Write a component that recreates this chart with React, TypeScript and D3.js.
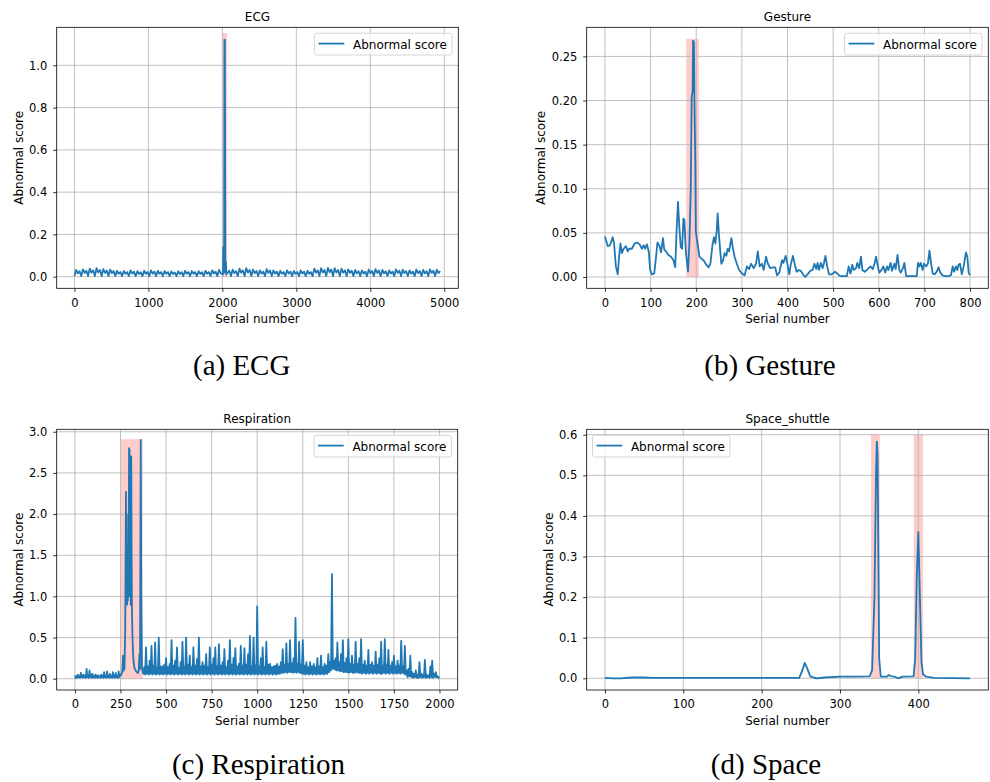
import React, { useRef, useEffect } from 'react';
import * as d3 from 'd3';

type Point = [number, number];

// ---- ECG ----
const ecgStep = 23;
const ecgScore = [
  0.003, 0.032, 0.016, 0.026, 0.003, 0.035, 0.018, 0.028, 0.003, 0.038, 0.019, 0.030,
  0.003, 0.040, 0.020, 0.032, 0.003, 0.036, 0.018, 0.029, 0.003, 0.034, 0.017, 0.027,
  0.003, 0.028, 0.014, 0.022, 0.003, 0.027, 0.014, 0.022, 0.003, 0.030, 0.015, 0.024,
  0.003, 0.026, 0.013, 0.021, 0.003, 0.028, 0.014, 0.022, 0.003, 0.030, 0.015, 0.024,
  0.003, 0.028, 0.014, 0.022, 0.003, 0.027, 0.014, 0.022, 0.003, 0.025, 0.013, 0.020,
  0.003, 0.026, 0.013, 0.021, 0.003, 0.028, 0.014, 0.022, 0.003, 0.027, 0.014, 0.022,
  0.003, 0.026, 0.013, 0.021, 0.003, 0.028, 0.014, 0.022, 0.003, 0.030, 0.015, 0.024,
  0.003, 0.032, 0.016, 0.026, 0.003, 0.035, 0.018, 0.028, 0.003, 0.033, 0.017, 0.026,
  0.003, 0.038, 0.019, 0.030, 0.003, 0.040, 0.020, 0.032, 0.003, 0.034, 0.017, 0.027,
  0.003, 0.030, 0.015, 0.024, 0.003, 0.036, 0.018, 0.029, 0.003, 0.030, 0.015, 0.024,
  0.003, 0.028, 0.014, 0.022, 0.003, 0.030, 0.015, 0.024, 0.003, 0.027, 0.014, 0.022,
  0.003, 0.030, 0.015, 0.024, 0.003, 0.028, 0.014, 0.022, 0.003, 0.038, 0.019, 0.030,
  0.003, 0.040, 0.020, 0.032, 0.003, 0.042, 0.021, 0.034, 0.003, 0.040, 0.020, 0.032,
  0.003, 0.038, 0.019, 0.030, 0.003, 0.035, 0.018, 0.028, 0.003, 0.032, 0.016, 0.026,
  0.003, 0.030, 0.015, 0.024, 0.003, 0.034, 0.017, 0.027, 0.003, 0.036, 0.018, 0.029,
  0.003, 0.032, 0.016, 0.026, 0.003, 0.030, 0.015, 0.024, 0.003, 0.035, 0.018, 0.028,
  0.003, 0.033, 0.017, 0.026, 0.003, 0.030, 0.015, 0.024, 0.003, 0.034, 0.017, 0.027,
  0.003, 0.032, 0.016, 0.026, 0.003, 0.035, 0.018, 0.028, 0.003, 0.033, 0.017, 0.026,
];
const ecgSpikeX = [2008, 2012, 2016, 2024, 2028, 2034, 2040, 2048, 2054];
const ecgSpikeY = [0.01, 0.14, 0.02, 0.02, 1.12, 1.12, 0.02, 0.07, 0.01];
const ecgSpans = [[2000, 2065]];
const ecgSpanTop = 1.153;
const ecgXTicks = [0, 1000, 2000, 3000, 4000, 5000];
const ecgYTicks = [0, 0.2, 0.4, 0.6, 0.8, 1.0];

// ---- Gesture ----
const gestureX = [
  0, 6, 11, 17, 20, 24, 28, 31, 34, 37, 41, 46, 50, 53, 59, 65, 70, 76, 81, 85, 88, 92, 96, 99,
  103, 108, 112, 115, 119, 123, 127, 130, 134, 139, 145, 150, 154, 157, 160, 163, 166, 169, 172,
  174, 177, 180, 182, 185, 188, 190, 192, 193, 195, 196, 198, 199, 201, 204, 207, 211, 216, 222,
  227, 231, 236, 239, 242, 245, 247, 250, 255, 259, 262, 266, 269, 272, 277, 280, 284, 289, 294,
  300, 306, 311, 316, 320, 326, 331, 335, 339, 344, 348, 353, 357, 362, 368, 373, 377, 382, 388,
  391, 396, 400, 404, 407, 412, 416, 420, 425, 429, 434, 439, 444, 450, 455, 459, 463, 466, 469,
  473, 477, 480, 483, 487, 491, 497, 504, 509, 515, 523, 530, 534, 538, 542, 545, 550, 553, 557,
  561, 564, 569, 574, 578, 582, 587, 591, 594, 598, 601, 606, 610, 614, 618, 621, 626, 629, 634,
  637, 641, 645, 648, 653, 656, 660, 669, 676, 683, 686, 689, 692, 696, 699, 704, 708, 711, 714,
  718, 722, 727, 731, 734, 739, 745, 753, 758, 762, 765, 769, 772, 775, 778, 782, 786, 791, 794,
  797, 800,
];
const gestureY = [
  0.046, 0.035, 0.036, 0.045, 0.038, 0.012, 0.003, 0.023, 0.038, 0.027, 0.032, 0.035, 0.029,
  0.032, 0.032, 0.038, 0.039, 0.037, 0.032, 0.036, 0.032, 0.037, 0.029, 0.008, 0.003, 0.004,
  0.023, 0.039, 0.036, 0.028, 0.044, 0.031, 0.029, 0.025, 0.023, 0.019, 0.011, 0.053, 0.085,
  0.057, 0.034, 0.032, 0.066, 0.065, 0.031, 0.015, 0.006, 0.038, 0.098, 0.204, 0.21, 0.268,
  0.266, 0.2, 0.129, 0.053, 0.044, 0.034, 0.023, 0.021, 0.019, 0.014, 0.011, 0.015, 0.038,
  0.045, 0.038, 0.053, 0.072, 0.046, 0.015, 0.019, 0.027, 0.024, 0.032, 0.029, 0.044, 0.034,
  0.023, 0.015, 0.008, 0.004, 0.002, 0.012, 0.009, 0.015, 0.01, 0.015, 0.029, 0.012, 0.015,
  0.008, 0.023, 0.015, 0.01, 0.011, 0.011, 0.002, 0.005, 0.019, 0.016, 0.024, 0.014, 0.003,
  0.014, 0.024, 0.014, 0.006, 0.008, 0.007, 0.003, 0.0, 0.003, 0.007, 0.008, 0.015, 0.009,
  0.016, 0.008, 0.016, 0.01, 0.016, 0.024, 0.012, 0.003, 0.003, 0.006, 0.004, 0.001, 0.001,
  0.001, 0.012, 0.004, 0.014, 0.008, 0.01, 0.016, 0.01, 0.023, 0.008, 0.006, 0.008, 0.01,
  0.012, 0.009, 0.016, 0.023, 0.012, 0.005, 0.008, 0.012, 0.005, 0.012, 0.008, 0.016, 0.007,
  0.015, 0.009, 0.025, 0.008, 0.005, 0.01, 0.016, 0.001, 0.001, 0.001, 0.001, 0.016, 0.012,
  0.016, 0.008, 0.015, 0.012, 0.016, 0.03, 0.018, 0.004, 0.003, 0.006, 0.011, 0.006, 0.002,
  0.001, 0.001, 0.002, 0.012, 0.006, 0.012, 0.008, 0.014, 0.015, 0.003, 0.012, 0.028, 0.023,
  0.005, 0.002,
];
const gestureSpans = [[178, 206]];
const gestureSpanTop = 0.27;
const gestureXTicks = [0, 100, 200, 300, 400, 500, 600, 700, 800];
const gestureYTicks = [0, 0.05, 0.1, 0.15, 0.2, 0.25];

// ---- Respiration ----
const respStartStep = 4;
const respStart = [
  0.04, 0.01, 0.03, 0.01, 0.05, 0.02, 0.03, 0.01, 0.07, 0.02, 0.04, 0.01, 0.05, 0.02, 0.03, 0.01,
  0.12, 0.02, 0.04, 0.01, 0.1, 0.02, 0.05, 0.01, 0.06, 0.02, 0.03, 0.01, 0.05, 0.02, 0.04, 0.01,
  0.04, 0.02, 0.03, 0.01, 0.05, 0.02, 0.04, 0.01, 0.08, 0.02, 0.03, 0.01, 0.09, 0.02, 0.04, 0.01,
  0.06, 0.02, 0.03, 0.01, 0.08, 0.02, 0.04, 0.01, 0.07, 0.02, 0.03, 0.01, 0.09, 0.02, 0.05,
];
const respAnomalyX = [
  252, 256, 260, 264, 268, 272, 276, 280, 282, 284, 286, 288, 290, 292, 294, 297, 299, 300, 302,
  304, 306, 309, 311, 313, 316, 319, 322, 327, 333, 340, 346, 350, 354, 357, 361, 364, 368, 372,
  376,
];
const respAnomalyY = [
  0.04, 0.06, 0.09, 0.28, 0.1, 0.13, 0.6, 2.27, 1.0, 2.0, 0.9, 1.6, 0.95, 1.3, 1.0, 2.8, 1.5,
  2.78, 1.0, 2.2, 0.9, 2.7, 1.5, 0.8, 0.5, 0.3, 0.2, 0.13, 0.1, 0.08, 0.07, 0.1, 0.3, 0.12, 2.9,
  1.0, 0.12, 0.08, 0.06,
];
const respTailStart = 380;
const respTailStep = 5;
const respTail = [
  0.14, 0.05, 0.38, 0.06, 0.15, 0.05, 0.22, 0.06, 0.4, 0.05, 0.16, 0.06, 0.44, 0.05, 0.13, 0.06, 0.5, 0.05, 0.15, 0.06,
  0.15, 0.05, 0.17, 0.06, 0.25, 0.05, 0.14, 0.06, 0.18, 0.05, 0.47, 0.06, 0.16, 0.05, 0.22, 0.06, 0.38, 0.05, 0.13, 0.06,
  0.2, 0.05, 0.45, 0.06, 0.15, 0.05, 0.5, 0.06, 0.17, 0.05, 0.28, 0.06, 0.14, 0.05, 0.38, 0.06, 0.16, 0.05, 0.24, 0.06,
  0.5, 0.05, 0.15, 0.06, 0.2, 0.05, 0.16, 0.06, 0.3, 0.05, 0.14, 0.06, 0.38, 0.05, 0.17, 0.06, 0.25, 0.05, 0.38, 0.06,
  0.15, 0.05, 0.42, 0.06, 0.16, 0.05, 0.2, 0.06, 0.36, 0.05, 0.14, 0.06, 0.22, 0.05, 0.47, 0.06, 0.17, 0.05, 0.25, 0.06,
  0.37, 0.05, 0.15, 0.06, 0.18, 0.05, 0.4, 0.06, 0.16, 0.05, 0.37, 0.06, 0.17, 0.05, 0.3, 0.06, 0.52, 0.05, 0.15, 0.06,
  0.5, 0.05, 0.16, 0.06, 0.88, 0.05, 0.15, 0.06, 0.25, 0.05, 0.38, 0.06, 0.14, 0.05, 0.45, 0.06, 0.17, 0.05, 0.18, 0.06,
  0.14, 0.05, 0.15, 0.06, 0.16, 0.05, 0.18, 0.06, 0.15, 0.06, 0.2, 0.07, 0.36, 0.07, 0.17, 0.08, 0.43, 0.07, 0.18, 0.08,
  0.47, 0.08, 0.19, 0.07, 0.25, 0.08, 0.74, 0.07, 0.18, 0.08, 0.45, 0.07, 0.17, 0.06, 0.47, 0.06, 0.16, 0.05, 0.2, 0.06,
  0.14, 0.05, 0.2, 0.06, 0.15, 0.05, 0.18, 0.06, 0.14, 0.05, 0.25, 0.06, 0.15, 0.05, 0.28, 0.06, 0.14, 0.05, 0.18, 0.06,
  0.16, 0.06, 0.3, 0.08, 0.2, 0.1, 1.27, 0.12, 0.22, 0.11, 0.25, 0.1, 0.44, 0.1, 0.2, 0.09, 0.3, 0.09, 0.47, 0.08,
  0.19, 0.08, 0.25, 0.08, 0.48, 0.07, 0.18, 0.08, 0.28, 0.07, 0.17, 0.07, 0.45, 0.08, 0.18, 0.07, 0.25, 0.07, 0.48, 0.06,
  0.17, 0.07, 0.22, 0.06, 0.16, 0.07, 0.35, 0.06, 0.17, 0.07, 0.2, 0.06, 0.16, 0.07, 0.33, 0.06, 0.17, 0.07, 0.25, 0.06,
  0.45, 0.06, 0.16, 0.07, 0.48, 0.06, 0.17, 0.07, 0.35, 0.06, 0.16, 0.07, 0.2, 0.06, 0.28, 0.07, 0.15, 0.06, 0.22, 0.07,
  0.16, 0.06, 0.46, 0.07, 0.15, 0.06, 0.4, 0.05, 0.1, 0.02, 0.12, 0.03, 0.28, 0.02, 0.08, 0.01, 0.06, 0.02, 0.1, 0.01,
  0.05, 0.01, 0.2, 0.02, 0.06, 0.01, 0.05, 0.02, 0.23, 0.01, 0.05, 0.02, 0.04, 0.01, 0.15, 0.02, 0.22, 0.01, 0.06, 0.02,
  0.08, 0.02, 0.03, 0.01, 0.02,
];
const respSpans = [[251, 372]];
const respSpanTop = 2.91;
const respXTicks = [0, 250, 500, 750, 1000, 1250, 1500, 1750, 2000];
const respYTicks = [0, 0.5, 1.0, 1.5, 2.0, 2.5, 3.0];

// ---- Space shuttle ----
const spaceX = [
  0, 10, 20, 35, 50, 60, 100, 200, 248, 252, 255, 258, 262, 270, 280, 300, 320, 338, 341, 344,
  346, 347, 348, 349, 350, 352, 360, 362, 366, 370, 374, 380, 394, 396, 398, 400, 402, 404, 406,
  410, 420, 466,
];
const spaceY = [
  0.001, 0.0, 0.0, 0.002, 0.002, 0.001, 0.001, 0.001, 0.001, 0.02, 0.038, 0.025, 0.005, 0.0,
  0.002, 0.004, 0.004, 0.005, 0.02, 0.2, 0.5, 0.583, 0.55, 0.3, 0.05, 0.004, 0.004, 0.008, 0.005,
  0.004, 0.0, 0.004, 0.005, 0.05, 0.25, 0.36, 0.2, 0.04, 0.01, 0.004, 0.001, 0.0,
];
const spaceSpans = [[339.5, 350.7], [394.2, 405.9]];
const spaceSpanTop = 0.6;
const spaceXTicks = [0, 100, 200, 300, 400];
const spaceYTicks = [0, 0.1, 0.2, 0.3, 0.4, 0.5, 0.6];

const ecgPoints: Point[] = [
  ...ecgScore
    .map((v, i) => [i * ecgStep, v] as Point)
    .filter(([x]) => x < 2000 || x > 2060),
  ...ecgSpikeX.map((x, i) => [x, ecgSpikeY[i]] as Point),
].sort((a, b) => a[0] - b[0]);

const gesturePoints: Point[] = gestureX.map((x, i) => [x, gestureY[i]]);

const respPoints: Point[] = [
  ...respStart.map((v, i) => [i * respStartStep, v] as Point),
  ...respAnomalyX.map((x, i) => [x, respAnomalyY[i]] as Point),
  ...respTail.map((v, i) => [respTailStart + i * respTailStep, v] as Point),
];

const spacePoints: Point[] = spaceX.map((x, i) => [x, spaceY[i]]);

const FONT = 'DejaVu Sans, sans-serif';
const BLUE = '#1f77b4';

interface PanelProps {
  id: string;
  title: string;
  points: Point[];
  spans: number[][];
  spanTop: number;
  xDomain: [number, number];
  yDomain: [number, number];
  xTicks: number[];
  yTicks: number[];
  yFormat: string;
  left: number;
  top: number;
  width: number;
  height: number;
  yLabelOffset: number;
  legendLeft?: boolean;
}

const Panel: React.FC<PanelProps> = (props) => {
  const gRef = useRef<SVGGElement>(null);

  useEffect(() => {
    if (!gRef.current) return;
    const { id, title, points, spans, spanTop, xDomain, yDomain, xTicks, yTicks, yFormat,
      width, height, yLabelOffset, legendLeft } = props;

    const g = d3.select(gRef.current);
    g.selectAll('*').remove();

    const x = d3.scaleLinear().domain(xDomain).range([0, width]);
    const y = d3.scaleLinear().domain(yDomain).range([height, 0]);

    g.append('clipPath')
      .attr('id', `clip-${id}`)
      .append('rect')
      .attr('width', width)
      .attr('height', height);

    const plot = g.append('g').attr('clip-path', `url(#clip-${id})`);

    // anomaly spans
    plot
      .selectAll('.span')
      .data(spans)
      .enter()
      .append('rect')
      .attr('x', (d) => x(d[0]))
      .attr('width', (d) => x(d[1]) - x(d[0]))
      .attr('y', y(spanTop))
      .attr('height', y(0) - y(spanTop))
      .attr('fill', 'red')
      .attr('fill-opacity', 0.2);

    // grid
    plot
      .selectAll('.gx')
      .data(xTicks)
      .enter()
      .append('line')
      .attr('x1', (d) => x(d))
      .attr('x2', (d) => x(d))
      .attr('y1', 0)
      .attr('y2', height)
      .attr('stroke', '#b0b0b0')
      .attr('stroke-width', 0.8);
    plot
      .selectAll('.gy')
      .data(yTicks)
      .enter()
      .append('line')
      .attr('x1', 0)
      .attr('x2', width)
      .attr('y1', (d) => y(d))
      .attr('y2', (d) => y(d))
      .attr('stroke', '#b0b0b0')
      .attr('stroke-width', 0.8);

    const line = d3
      .line<Point>()
      .x((d) => x(d[0]))
      .y((d) => y(d[1]));

    plot
      .append('path')
      .datum(points)
      .attr('fill', 'none')
      .attr('stroke', BLUE)
      .attr('stroke-width', 1.8)
      .attr('stroke-linejoin', 'round')
      .attr('d', line);

    // axes
    const xAxis = g
      .append('g')
      .attr('transform', `translate(0,${height})`)
      .call(d3.axisBottom(x).tickValues(xTicks).tickSize(3.5).tickPadding(6.6).tickFormat(d3.format('d')));
    const yAxis = g
      .append('g')
      .call(d3.axisLeft(y).tickValues(yTicks).tickSize(3.5).tickPadding(5.9).tickFormat(d3.format(yFormat)));

    [xAxis, yAxis].forEach((a) => {
      a.select('.domain').remove();
      a.attr('font-size', 11.5).attr('font-family', FONT);
      a.selectAll('line').attr('stroke', '#000').attr('stroke-width', 0.8);
      a.selectAll('text').attr('fill', '#000');
    });

    // frame
    g.append('rect')
      .attr('width', width)
      .attr('height', height)
      .attr('fill', 'none')
      .attr('stroke', '#000')
      .attr('stroke-width', 0.8);

    // labels
    g.append('text')
      .attr('x', width / 2)
      .attr('y', -6.8)
      .attr('text-anchor', 'middle')
      .attr('font-family', FONT)
      .attr('font-size', 12)
      .text(title);

    g.append('text')
      .attr('x', width / 2)
      .attr('y', height + 35)
      .attr('text-anchor', 'middle')
      .attr('font-family', FONT)
      .attr('font-size', 12)
      .text('Serial number');

    g.append('text')
      .attr('transform', `translate(${-yLabelOffset},${height / 2}) rotate(-90)`)
      .attr('text-anchor', 'middle')
      .attr('font-family', FONT)
      .attr('font-size', 12)
      .text('Abnormal score');

    // legend
    const lw = 137.4;
    const lh = 21.7;
    const lx = legendLeft ? 5.8 : width - 6.3 - lw;
    const legend = g.append('g').attr('transform', `translate(${lx},6)`);
    legend
      .append('rect')
      .attr('width', lw)
      .attr('height', lh)
      .attr('rx', 2.5)
      .attr('fill', '#fff')
      .attr('fill-opacity', 0.8)
      .attr('stroke', '#cccccc')
      .attr('stroke-width', 0.8);
    legend
      .append('line')
      .attr('x1', 4)
      .attr('x2', 29.7)
      .attr('y1', 10.3)
      .attr('y2', 10.3)
      .attr('stroke', BLUE)
      .attr('stroke-width', 1.8);
    legend
      .append('text')
      .attr('x', 38.4)
      .attr('y', 15.6)
      .attr('font-family', FONT)
      .attr('font-size', 12)
      .text('Abnormal score');
  }, [props]);

  return <g ref={gRef} transform={`translate(${props.left},${props.top})`} />;
};

const captionStyle = { fontFamily: 'Liberation Serif, Times New Roman, serif', fontSize: 29 };

const App: React.FC = () => (
  <div style={{ position: 'absolute', left: 0, top: 0 }}>
    <svg width={990} height={782} style={{ display: 'block', background: '#fff' }}>
      <Panel
        id="ecg"
        title="ECG"
        points={ecgPoints}
        spans={ecgSpans}
        spanTop={ecgSpanTop}
        xDomain={[-240, 5190]}
        yDomain={[-0.0549, 1.18]}
        xTicks={ecgXTicks}
        yTicks={ecgYTicks}
        yFormat=".1f"
        left={56.7}
        top={27.3}
        width={401.6}
        height={261}
        yLabelOffset={34.2}
      />
      <Panel
        id="gesture"
        title="Gesture"
        points={gesturePoints}
        spans={gestureSpans}
        spanTop={gestureSpanTop}
        xDomain={[-40, 840]}
        yDomain={[-0.0128, 0.283]}
        xTicks={gestureXTicks}
        yTicks={gestureYTicks}
        yFormat=".2f"
        left={586.7}
        top={27.3}
        width={401.6}
        height={261}
        yLabelOffset={41.7}
      />
      <Panel
        id="resp"
        title="Respiration"
        points={respPoints}
        spans={respSpans}
        spanTop={respSpanTop}
        xDomain={[-100, 2100]}
        yDomain={[-0.137, 3.03]}
        xTicks={respXTicks}
        yTicks={respYTicks}
        yFormat=".1f"
        left={56.7}
        top={429.3}
        width={401}
        height={260.7}
        yLabelOffset={34.2}
      />
      <Panel
        id="space"
        title="Space_shuttle"
        points={spacePoints}
        spans={spaceSpans}
        spanTop={spaceSpanTop}
        xDomain={[-23.3, 489.3]}
        yDomain={[-0.0288, 0.6133]}
        xTicks={spaceXTicks}
        yTicks={spaceYTicks}
        yFormat=".1f"
        left={586.7}
        top={429.3}
        width={401.6}
        height={260.7}
        yLabelOffset={33.4}
        legendLeft
      />
      <text x={241.7} y={375} textAnchor="middle" style={captionStyle}>(a) ECG</text>
      <text x={770} y={375} textAnchor="middle" style={captionStyle}>(b) Gesture</text>
      <text x={258.5} y={774} textAnchor="middle" style={captionStyle}>(c) Respiration</text>
      <text x={766} y={774} textAnchor="middle" style={captionStyle}>(d) Space</text>
    </svg>
  </div>
);

export default App;
